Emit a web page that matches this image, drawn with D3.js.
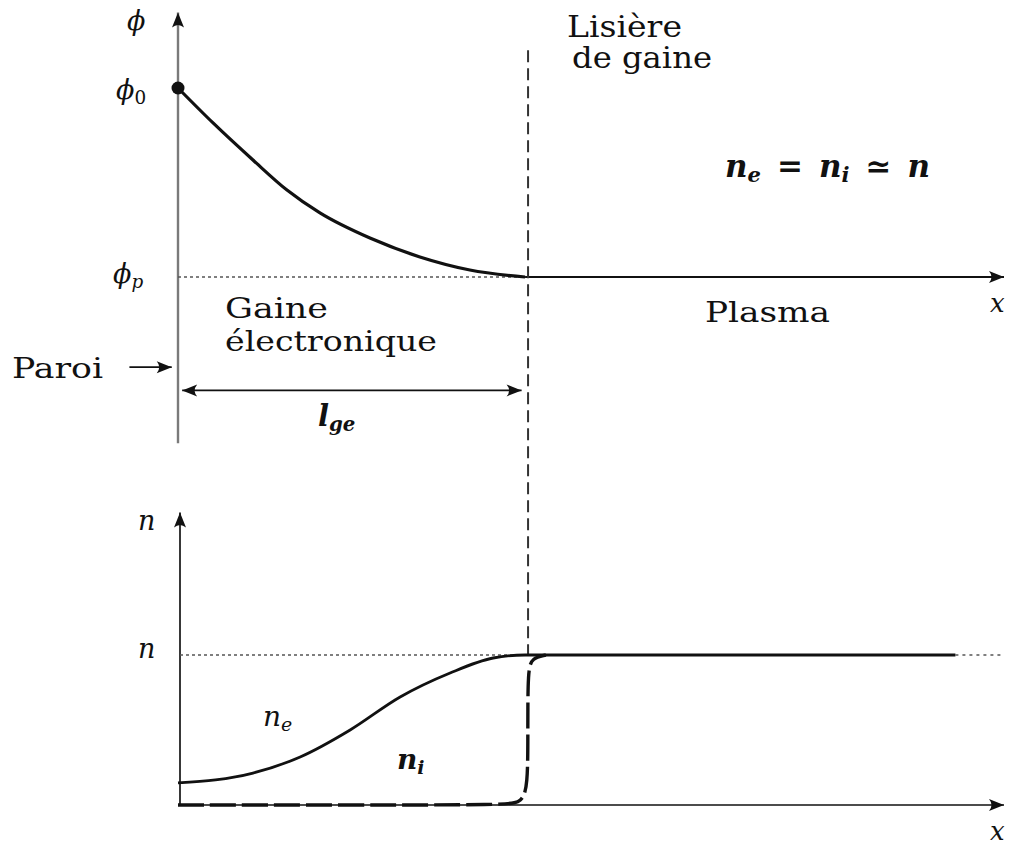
<!DOCTYPE html>
<html>
<head>
<meta charset="utf-8">
<script src="https://cdn.jsdelivr.net/npm/d3@7"></script>
<style>
  html, body { margin: 0; padding: 0; background: #fff; }
  svg { display: block; }
  text { font-family: "DejaVu Serif", "Liberation Serif", serif; fill: #111; }
  .math { font-family: "DejaVu Serif", serif; font-style: italic; }
</style>
</head>
<body>
<svg id="chart" width="1011" height="847"></svg>
<script>
// ---- data (normalised: x in units of l_ge, phi: phi_p=0, phi_0=1; n: 0..1) ----
const phiX = [0, 0.101, 0.216, 0.314, 0.409, 0.553, 0.697, 0.841, 1.0];
const phiY = [1, 0.815, 0.619, 0.46, 0.339, 0.206, 0.106, 0.037, 0];
const plasmaPhiX = [1.0, 2.38];
const plasmaPhiY = [0, 0];

const neX = [0, 0.216, 0.352, 0.496, 0.64, 0.784, 0.908, 1.0, 1.1, 2.24];
const neY = [0.147, 0.213, 0.32, 0.5, 0.72, 0.88, 0.98, 1.0, 1.0, 1.0];

const niX = [0, 0.5, 0.95, 0.99, 1.008, 1.008, 1.008, 1.02, 1.06];
const niY = [0, 0, 0, 0.02, 0.12, 0.5, 0.9, 0.98, 1.0];

const phiTicks = [{v: 1, label: "0"}, {v: 0, label: "p"}];
const nTicks = [{v: 1, label: ""}];

const xExtent = [0, 2.38];
const phiAxisExtent = [-0.88, 1.4];
const nAxisExtent = [0, 1.95];
const sheathEdge = 1.0;

// ---- scales ----
const xs = d3.scaleLinear().domain([0, 2.38]).range([178, 1004]);
const yPhi = d3.scaleLinear().domain([0, 1]).range([277, 88]);
const yN = d3.scaleLinear().domain([0, 1]).range([805, 655]);

const svg = d3.select("#chart");
const defs = svg.append("defs");
defs.append("marker")
  .attr("id", "arr").attr("viewBox", "-16 -8 18 16")
  .attr("refX", 0).attr("refY", 0)
  .attr("markerWidth", 18).attr("markerHeight", 16)
  .attr("markerUnits", "userSpaceOnUse")
  .attr("orient", "auto-start-reverse")
  .append("path").attr("d", "M0,0 L-15,-6 Q-10,0 -15,6 Z").attr("fill", "#111");

// ---- top panel: phi ----
svg.append("line")
  .attr("x1", xs(0)).attr("x2", xs(0))
  .attr("y1", yPhi(phiAxisExtent[0])).attr("y2", yPhi(phiAxisExtent[1]))
  .attr("stroke", "#7a7a7a").attr("stroke-width", 2.4)
  .attr("marker-end", "url(#arr)");

svg.append("line")
  .attr("x1", xs(0)).attr("x2", xs(sheathEdge))
  .attr("y1", yPhi(0)).attr("y2", yPhi(0))
  .attr("stroke", "#555").attr("stroke-width", 1.4).attr("stroke-dasharray", "3,3");

svg.append("path")
  .attr("d", d3.line().x((d, i) => xs(plasmaPhiX[i])).y((d, i) => yPhi(plasmaPhiY[i]))(plasmaPhiX))
  .attr("fill", "none").attr("stroke", "#111").attr("stroke-width", 2)
  .attr("marker-end", "url(#arr)");

const phiLine = d3.line().curve(d3.curveMonotoneX)
  .x((d, i) => xs(phiX[i])).y((d, i) => yPhi(phiY[i]));
svg.append("path").attr("d", phiLine(phiX))
  .attr("fill", "none").attr("stroke", "#111").attr("stroke-width", 3.2);
svg.append("circle").attr("cx", xs(phiX[0])).attr("cy", yPhi(phiY[0])).attr("r", 6.5).attr("fill", "#111");

svg.append("line")
  .attr("x1", xs(sheathEdge) + 3).attr("x2", xs(sheathEdge) + 3)
  .attr("y1", yPhi(1.2)).attr("y2", yN(1))
  .attr("stroke", "#333").attr("stroke-width", 2).attr("stroke-dasharray", "12,6");

svg.append("line")
  .attr("x1", xs(0.012)).attr("x2", xs(0.99))
  .attr("y1", yPhi(-0.6)).attr("y2", yPhi(-0.6))
  .attr("stroke", "#111").attr("stroke-width", 1.8)
  .attr("marker-start", "url(#arr)").attr("marker-end", "url(#arr)");

svg.append("line")
  .attr("x1", xs(-0.14)).attr("x2", xs(-0.018))
  .attr("y1", yPhi(-0.477)).attr("y2", yPhi(-0.477))
  .attr("stroke", "#111").attr("stroke-width", 1.6)
  .attr("marker-end", "url(#arr)");

// ---- bottom panel: densities ----
svg.append("line")
  .attr("x1", xs(0) + 2).attr("x2", xs(0) + 2)
  .attr("y1", yN(nAxisExtent[0])).attr("y2", yN(nAxisExtent[1]))
  .attr("stroke", "#222").attr("stroke-width", 1.8)
  .attr("marker-end", "url(#arr)");
svg.append("line")
  .attr("x1", xs(0) + 2).attr("x2", xs(xExtent[1]))
  .attr("y1", yN(0)).attr("y2", yN(0))
  .attr("stroke", "#111").attr("stroke-width", 1.6)
  .attr("marker-end", "url(#arr)");

svg.append("line")
  .attr("x1", xs(0) + 2).attr("x2", xs(sheathEdge))
  .attr("y1", yN(1)).attr("y2", yN(1))
  .attr("stroke", "#555").attr("stroke-width", 1.4).attr("stroke-dasharray", "3,3");
svg.append("line")
  .attr("x1", xs(neX[neX.length - 1])).attr("x2", xs(xExtent[1]))
  .attr("y1", yN(1)).attr("y2", yN(1))
  .attr("stroke", "#555").attr("stroke-width", 1.3).attr("stroke-dasharray", "3,4");

const neLine = d3.line().curve(d3.curveMonotoneX)
  .x((d, i) => xs(neX[i])).y((d, i) => yN(neY[i]));
svg.append("path").attr("d", neLine(neX))
  .attr("fill", "none").attr("stroke", "#111").attr("stroke-width", 2.8);

const niLine = d3.line().curve(d3.curveBasis)
  .x((d, i) => xs(niX[i])).y((d, i) => yN(niY[i]));
svg.append("path").attr("d", niLine(niX))
  .attr("fill", "none").attr("stroke", "#111").attr("stroke-width", 3.4)
  .attr("stroke-dasharray", "26,6");

// ---- text ----
function mathLabel(x, y, parts, size, opts = {}) {
  const t = svg.append("text").attr("x", x).attr("y", y)
    .attr("class", "math").style("font-size", size + "px");
  if (opts.bold) t.style("font-weight", "bold");
  parts.forEach(p => {
    const ts = t.append("tspan").text(p.t);
    if (p.sub) ts.style("font-size", (size * 0.68) + "px").attr("dy", 5);
    else if (p.back) ts.attr("dy", -5);
    if (p.up) ts.style("font-style", "normal");
    if (p.dx) ts.attr("dx", p.dx);
  });
  return t;
}
function word(x, y, s, size, len) {
  return svg.append("text").attr("x", x).attr("y", y).text(s)
    .style("font-size", size + "px")
    .attr("textLength", len).attr("lengthAdjust", "spacingAndGlyphs");
}

mathLabel(127, 30, [{t: "ϕ"}], 27);
mathLabel(116, 99, [{t: "ϕ"}, {t: phiTicks[0].label, sub: true, up: true}], 27);
mathLabel(113, 283, [{t: "ϕ"}, {t: phiTicks[1].label, sub: true}], 27);

word(567, 37, "Lisière", 29, 115);
word(572, 68, "de gaine", 29, 140);

mathLabel(725, 177, [
  {t: "n"}, {t: "e", sub: true}, {t: "=", back: true, up: true, dx: 16},
  {t: "n", dx: 16}, {t: "i", sub: true}, {t: "≃", back: true, up: true, dx: 16}, {t: "n", dx: 16}
], 31, {bold: true});

word(705, 322, "Plasma", 28, 125);
word(225, 318, "Gaine", 28, 103);
word(225, 351, "électronique", 28, 212);
word(12, 378, "Paroi", 28, 91);

mathLabel(318, 426, [{t: "l"}, {t: "ge", sub: true}], 29, {bold: true});

mathLabel(990, 312, [{t: "x"}], 26);
mathLabel(990, 840, [{t: "x"}], 26);

mathLabel(138, 530, [{t: "n"}], 27);
mathLabel(138, 658, [{t: "n"}], 27);
mathLabel(263, 726, [{t: "n"}, {t: "e", sub: true}], 28);
mathLabel(397, 769, [{t: "n"}, {t: "i", sub: true}], 28, {bold: true});
</script>
</body>
</html>
